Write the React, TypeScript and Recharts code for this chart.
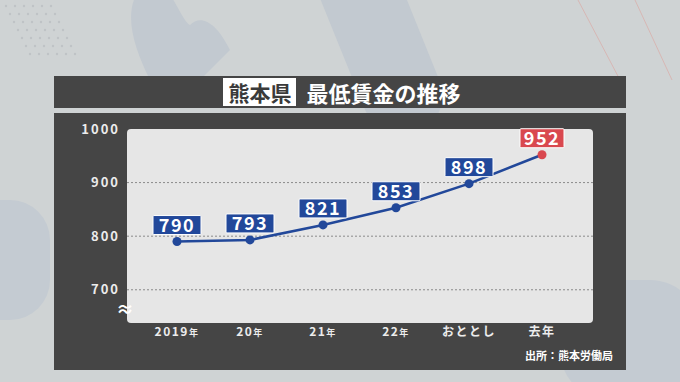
import React from 'react';
import { LineChart, Line, XAxis, YAxis, CartesianGrid, LabelList } from 'recharts';

const periods = ['2019年', '20年', '21年', '22年', 'おととし', '去年'];
const wages = [790, 793, 821, 853, 898, 952];
const yTicks = [700, 800, 900, 1000];
const gridValues = [700, 800, 900];

const BLUE = '#22489a';
const RED = '#d9484f';
const LAST = wages.length - 1;

const data = periods.map((p, i) => ({ period: p, wage: wages[i] }));

const XTick = ({ x, y, payload }) => {
  const v = payload.value;
  const hasNen = v.endsWith('年') && v !== '去年';
  const main = hasNen ? v.slice(0, -1) : v;
  return (
    <text x={x} y={y + 9} textAnchor="middle" fill="#ececec" fontSize={12} fontWeight={700} letterSpacing={1.5}>
      {main}
      {hasNen && <tspan fontSize={9}>年</tspan>}
    </text>
  );
};

const Dot = ({ cx, cy, index }) => (
  <circle cx={cx} cy={cy} r={4.5} fill={index === LAST ? RED : BLUE} />
);

const ValueBox = ({ x, y, value, index }) => {
  const w = index === LAST ? 44 : 48;
  const h = 19;
  const bottom = y - 7;
  return (
    <g>
      <rect x={x - w / 2} y={bottom - h} width={w} height={h} fill={index === LAST ? RED : BLUE} stroke="#ffffff" strokeWidth={1} rx={1} />
      <text x={x} y={bottom - 3} textAnchor="middle" fill="#fff" fontSize={18} fontWeight={700} letterSpacing={1.5}>
        {value}
      </text>
    </g>
  );
};

const Background = () => (
  <svg width={680} height={382} style={{ position: 'absolute', left: 0, top: 0 }}>
    <rect width={680} height={382} fill="#cfd3d4" />
    <path d="M150 -20 C120 0 130 40 150 80 L200 80 L230 50 C215 20 200 15 190 25 C180 20 170 -20 150 -20 Z" fill="#c2c9d0" />
    <rect x={340} y={-60} width={80} height={200} rx={40} fill="#c2c9d0" transform="rotate(-22 380 40)" />
    <rect x={-40} y={200} width={90} height={120} rx={40} fill="#c4cbd2" />
    <rect x={560} y={280} width={140} height={120} rx={50} fill="#c4cbd2" />
    <line x1={578} y1={0} x2={620} y2={80} stroke="#d7b7b4" strokeWidth={1} />
    <line x1={635} y1={0} x2={672} y2={80} stroke="#d7b7b4" strokeWidth={1} />
    {Array.from({ length: 7 }).map((_, r) =>
      Array.from({ length: 6 }).map((__, c) => (
        <circle key={`${r}-${c}`} cx={6 + r * 4 + c * 9} cy={6 + r * 8} r={1.2} fill="#bfc3c6" />
      ))
    )}
  </svg>
);

export default function App() {
  return (
    <div style={{ position: 'absolute', left: 0, top: 0, width: 680, height: 382, overflow: 'hidden', fontFamily: '"Noto Sans CJK JP", sans-serif' }}>
      <Background />
      <div style={{ position: 'absolute', left: 54, top: 76, width: 572, height: 32, background: '#454545', display: 'flex', alignItems: 'center', justifyContent: 'center' }}>
        <span style={{ background: '#fff', color: '#3a3a3a', fontWeight: 700, fontSize: 21, lineHeight: '24px', padding: '2px 5px', marginRight: 10, marginLeft: 4 }}>熊本県</span>
        <span style={{ color: '#fff', fontWeight: 700, fontSize: 22, lineHeight: '24px' }}>最低賃金の推移</span>
      </div>
      <div style={{ position: 'absolute', left: 54, top: 113, width: 572, height: 257, background: '#454545' }} />
      <div style={{ position: 'absolute', left: 127, top: 129, width: 466, height: 194, background: '#e6e6e6', borderRadius: 4 }} />
      <div style={{ position: 'absolute', left: 116, top: 298, color: '#fff', fontSize: 18, fontWeight: 700, lineHeight: '20px' }}>≈</div>
      <div style={{ position: 'absolute', right: 680 - 613, top: 347, color: '#fff', fontSize: 11, fontWeight: 700 }}>出所：熊本労働局</div>
      <div style={{ position: 'absolute', left: 0, top: 0 }}>
        <LineChart width={680} height={382} data={data} margin={{ top: 129, right: 87, bottom: 29, left: 67 }}>
          <CartesianGrid vertical={false} horizontalValues={gridValues} stroke="#8a8a8a" strokeDasharray="2 2" />
          <XAxis dataKey="period" axisLine={false} tickLine={false} tickSize={0} tickMargin={4} height={30} padding={{ left: 50, right: 51 }} tick={<XTick />} interval={0} />
          <YAxis type="number" domain={[638, 1000]} ticks={yTicks} axisLine={false} tickLine={false} tickSize={0} tickMargin={7} width={60} allowDataOverflow
            tick={{ fill: '#ececec', fontSize: 13, fontWeight: 700, letterSpacing: 2 }} />
          <Line type="linear" dataKey="wage" stroke={BLUE} strokeWidth={2.5} dot={<Dot />} activeDot={false} isAnimationActive={false}>
            <LabelList dataKey="wage" content={<ValueBox />} />
          </Line>
        </LineChart>
      </div>
    </div>
  );
}
